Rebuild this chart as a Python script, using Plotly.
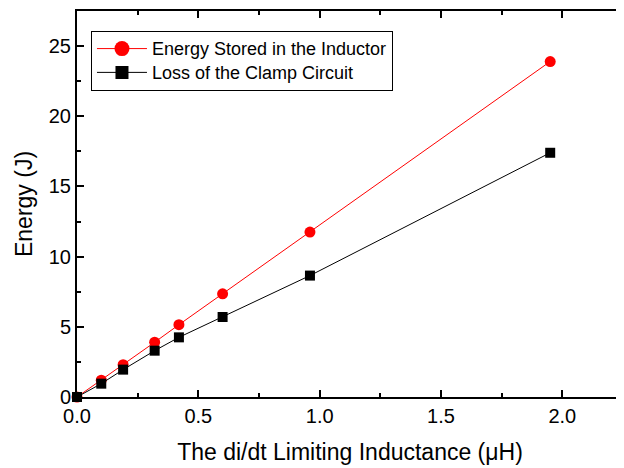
import plotly.graph_objects as go

inductance = [0, 0.1, 0.19, 0.32, 0.42, 0.6, 0.96, 1.95]
energy_stored = [0, 1.2, 2.3, 3.9, 5.15, 7.35, 11.75, 23.9]
clamp_loss = [0, 0.95, 1.95, 3.3, 4.25, 5.7, 8.65, 17.4]

names = ["Energy Stored in the Inductor", "Loss of the Clamp Circuit"]
FONT = "Liberation Sans, Arial"

def big(txt):
    return "<span style='font-size:18px'>" + txt + "</span>"

fig = go.Figure()
fig.add_trace(go.Scatter(
    x=inductance, y=energy_stored, mode="lines+markers",
    name=names[0], showlegend=False,
    line=dict(color="#ff0000", width=1),
    marker=dict(symbol="circle", size=11, color="#ff0000"),
    cliponaxis=False,
))
fig.add_trace(go.Scatter(
    x=inductance, y=clamp_loss, mode="lines+markers",
    name=names[1], showlegend=False,
    line=dict(color="#000000", width=1),
    marker=dict(symbol="square", size=10, color="#000000"),
    cliponaxis=False,
))
# legend entries with larger symbols (as in the reference)
fig.add_trace(go.Scatter(
    x=[None], y=[None], mode="lines+markers", name=big(names[0]),
    line=dict(color="#ff0000", width=1),
    marker=dict(symbol="circle", size=15, color="#ff0000"),
))
fig.add_trace(go.Scatter(
    x=[None], y=[None], mode="lines+markers", name=big(names[1]),
    line=dict(color="#000000", width=1),
    marker=dict(symbol="square", size=13, color="#000000"),
))

axis_common = dict(
    showline=True, linecolor="black", linewidth=2, mirror="ticks",
    ticks="inside", ticklen=7, tickwidth=2, tickcolor="black",
    showgrid=False, zeroline=False, automargin=False,
    tickfont=dict(family=FONT, size=20, color="black"),
)

fig.update_xaxes(
    range=[0, 2.25], tick0=0, dtick=0.5, tickformat=".1f",
    minor=dict(ticks="inside", ticklen=4, tickwidth=2, tickcolor="black", dtick=0.25),
    title=dict(text="The di/dt Limiting Inductance (μH)",
               font=dict(family=FONT, size=23, color="black"),
               standoff=18),
    **axis_common,
)
fig.update_yaxes(
    range=[0, 27.5], tick0=0, dtick=5,
    minor=dict(ticks="inside", ticklen=4, tickwidth=2, tickcolor="black", dtick=2.5),
    title=dict(text="Energy (J)",
               font=dict(family=FONT, size=23, color="black"),
               standoff=10),
    **axis_common,
)

# page body has an 8px margin, so the figure is sized/offset to compensate
fig.update_layout(
    width=616, height=460,
    margin=dict(l=69, r=1, t=3, b=71),
    plot_bgcolor="white", paper_bgcolor="white",
    legend=dict(
        x=0.0256, y=0.949, xanchor="left", yanchor="top",
        bordercolor="black", borderwidth=1, bgcolor="white",
        font=dict(family=FONT, size=16, color="black"),
        tracegroupgap=0, itemwidth=50,
    ),
)

fig.write_html("out.html")
